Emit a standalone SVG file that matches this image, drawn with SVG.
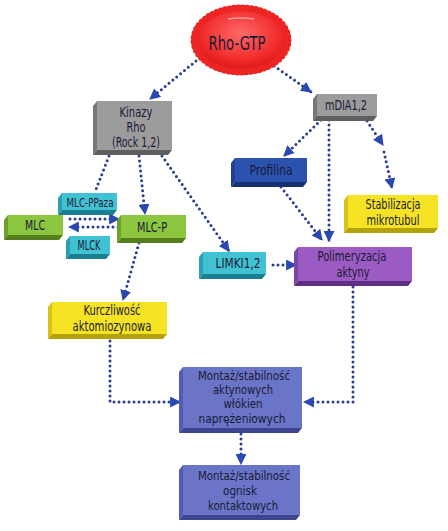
<svg xmlns="http://www.w3.org/2000/svg" width="448" height="531" viewBox="0 0 448 531">
<style>
.t{font-family:"DejaVu Sans Condensed","DejaVu Sans",sans-serif;font-stretch:condensed;font-size:14px;fill:#1a1a36;text-anchor:middle}
.m{font-size:13px}
.c{fill:none;stroke:#2b3c98;stroke-width:3;stroke-linecap:round;stroke-dasharray:0 5}
.gray .f{fill:#9c9c9c}.gray .s{fill:#777}.gray .b{fill:#5e5e5e}
.cyan .f{fill:#41c2d2}.cyan .s{fill:#2aa0b4}.cyan .b{fill:#1b7f92}
.green .f{fill:#8dc63f}.green .s{fill:#6e9f2a}.green .b{fill:#557e1c}
.yel .f{fill:#f6e424}.yel .s{fill:#d8c414}.yel .b{fill:#b3a20c}
.pur .f{fill:#9b5bc2}.pur .s{fill:#7c45a4}.pur .b{fill:#5d2f82}
.sla .f{fill:#6b75c8}.sla .s{fill:#535cae}.sla .b{fill:#3d4592}
.blu .f{fill:#2c52b0}.blu .s{fill:#22428f}.blu .b{fill:#182f70}
</style>
<defs>
<radialGradient id="rg" cx="50%" cy="40%" r="60%">
<stop offset="0" stop-color="#ff6a6a"/>
<stop offset="0.7" stop-color="#f02a2a"/>
<stop offset="1" stop-color="#d81414"/>
</radialGradient>
<marker id="a" viewBox="0 0 10 10" refX="9" refY="5" markerWidth="11" markerHeight="11" markerUnits="userSpaceOnUse" orient="auto">
<path d="M0,0 L10,5 L0,10 z" fill="#2a48b0"/>
</marker>
</defs>
<rect width="448" height="531" fill="#fff"/>

<g id="connectors">
<path class="c" d="M196,61 L150,99" marker-end="url(#a)"/>
<path class="c" d="M270,63 L311,92" marker-end="url(#a)"/>
<path class="c" d="M109,156 L95,192"/>
<path class="c" d="M139,156 L145,214" marker-end="url(#a)"/>
<path class="c" d="M162,156 L229,251" marker-end="url(#a)"/>
<path class="c" d="M70,219 L119,219" marker-end="url(#a)"/>
<path class="c" d="M118,227 L69,227" marker-end="url(#a)"/>
<path class="c" d="M139,243 L123,300" marker-end="url(#a)"/>
<path class="c" d="M321,120 L284,156" marker-end="url(#a)"/>
<path class="c" d="M329,120 L329,241" marker-end="url(#a)"/>
<path class="c" d="M367,121 L383,145" marker-end="url(#a)"/>
<path class="c" d="M384,152 L392,188" marker-end="url(#a)"/>
<path class="c" d="M281,187 L322,240" marker-end="url(#a)"/>
<path class="c" d="M273,265 L296,265" marker-end="url(#a)"/>
<path class="c" d="M353,287 L353,402 L304,402" marker-end="url(#a)"/>
<path class="c" d="M110,341 L110,402 L180,402" marker-end="url(#a)"/>
<path class="c" d="M241,434 L241,464" marker-end="url(#a)"/>
</g>

<g id="rho-gtp">
<ellipse cx="241" cy="40" rx="47" ry="32" fill="url(#rg)" stroke="#ec2424" stroke-width="7" stroke-linecap="round" stroke-dasharray="0 4.4"/>
<path d="M228,19 Q241,17 254,19" stroke="#ff9a9a" stroke-width="1.5" fill="none"/>
<text class="t" x="237" y="50" style="font-size:20px" textLength="57" lengthAdjust="spacingAndGlyphs">Rho-GTP</text>
</g>

<g id="kinazy" class="gray">
<polygon class="s" points="97,101 93,106 93,155 97,150"/>
<polygon class="b" points="97,150 93,155 168,155 172,150"/>
<rect class="f" x="97" y="101" width="75" height="49"/>
<text class="t" x="136" y="117" textLength="33" lengthAdjust="spacingAndGlyphs">Kinazy</text>
<text class="t" x="136" y="132" textLength="19" lengthAdjust="spacingAndGlyphs">Rho</text>
<text class="t" x="136" y="147" textLength="48" lengthAdjust="spacingAndGlyphs">(Rock 1,2)</text>
</g>

<g id="mdia" class="gray">
<polygon class="s" points="317,94 313,99 313,121 317,116"/>
<polygon class="b" points="317,116 313,121 373,121 377,116"/>
<rect class="f" x="317" y="94" width="60" height="22"/>
<text class="t" x="346" y="110" textLength="42" lengthAdjust="spacingAndGlyphs">mDIA1,2</text>
</g>

<g id="profilina" class="blu">
<polygon class="s" points="235,158 231,163 231,187 235,182"/>
<polygon class="b" points="235,182 231,187 303,187 307,182"/>
<rect class="f" x="235" y="158" width="72" height="24"/>
<text class="t" x="271" y="175" textLength="43" lengthAdjust="spacingAndGlyphs">Profilina</text>
</g>

<g id="stabilizacja" class="yel">
<polygon class="s" points="348,195 344,200 344,233 348,228"/>
<polygon class="b" points="348,228 344,233 434,233 438,228"/>
<rect class="f" x="348" y="195" width="90" height="33"/>
<text class="t" x="393" y="209" textLength="55" lengthAdjust="spacingAndGlyphs">Stabilizacja</text>
<text class="t" x="393" y="225" textLength="53" lengthAdjust="spacingAndGlyphs">mikrotubul</text>
</g>

<g id="mlc-ppaza" class="cyan">
<polygon class="s" points="62,193 58,198 58,215 62,210"/>
<polygon class="b" points="62,210 58,215 113,215 117,210"/>
<rect class="f" x="62" y="193" width="55" height="17"/>
<text class="t m" x="90" y="207" textLength="47" lengthAdjust="spacingAndGlyphs">MLC-PPaza</text>
</g>

<g id="mlc" class="green">
<polygon class="s" points="8,215 4,220 4,240 8,235"/>
<polygon class="b" points="8,235 4,240 59,240 63,235"/>
<rect class="f" x="8" y="215" width="55" height="20"/>
<text class="t" x="35" y="230" textLength="20" lengthAdjust="spacingAndGlyphs">MLC</text>
</g>

<g id="mlc-p" class="green">
<polygon class="s" points="121,215 117,220 117,243 121,238"/>
<polygon class="b" points="121,238 117,243 182,243 186,238"/>
<rect class="f" x="121" y="215" width="65" height="23"/>
<text class="t" x="152" y="232" textLength="30" lengthAdjust="spacingAndGlyphs">MLC-P</text>
</g>

<g id="mlck" class="cyan">
<polygon class="s" points="70,236 66,241 66,259 70,254"/>
<polygon class="b" points="70,254 66,259 106,259 110,254"/>
<rect class="f" x="70" y="236" width="40" height="18"/>
<text class="t" x="89" y="250" textLength="23" lengthAdjust="spacingAndGlyphs">MLCK</text>
</g>

<g id="limki" class="cyan">
<polygon class="s" points="203,252 199,257 199,279 203,274"/>
<polygon class="b" points="203,274 199,279 262,279 266,274"/>
<rect class="f" x="203" y="252" width="63" height="22"/>
<text class="t" x="238" y="268" textLength="45" lengthAdjust="spacingAndGlyphs">LIMKI1,2</text>
</g>

<g id="polimeryzacja" class="pur">
<polygon class="s" points="298,247 294,252 294,286 298,281"/>
<polygon class="b" points="298,281 294,286 408,286 412,281"/>
<rect class="f" x="298" y="247" width="114" height="34"/>
<text class="t" x="352" y="261" textLength="69" lengthAdjust="spacingAndGlyphs">Polimeryzacja</text>
<text class="t" x="353" y="277" textLength="33" lengthAdjust="spacingAndGlyphs">aktyny</text>
</g>

<g id="kurczliwosc" class="yel">
<polygon class="s" points="52,302 48,307 48,339 52,334"/>
<polygon class="b" points="52,334 48,339 163,339 167,334"/>
<rect class="f" x="52" y="302" width="115" height="32"/>
<text class="t" x="112" y="315" textLength="57" lengthAdjust="spacingAndGlyphs">Kurczliwość</text>
<text class="t" x="112" y="331" textLength="79" lengthAdjust="spacingAndGlyphs">aktomiozynowa</text>
</g>

<g id="montaz-wlokien" class="sla">
<polygon class="s" points="183,367 179,372 179,433 183,428"/>
<polygon class="b" points="183,428 179,433 298,433 302,428"/>
<rect class="f" x="183" y="367" width="119" height="61"/>
<text class="t m" x="244" y="380" textLength="92" lengthAdjust="spacingAndGlyphs">Montaż/stabilność</text>
<text class="t m" x="243" y="394" textLength="60" lengthAdjust="spacingAndGlyphs">aktynowych</text>
<text class="t m" x="243" y="408" textLength="39" lengthAdjust="spacingAndGlyphs">włókien</text>
<text class="t m" x="242" y="423" textLength="87" lengthAdjust="spacingAndGlyphs">naprężeniowych</text>
</g>

<g id="montaz-ognisk" class="sla">
<polygon class="s" points="183,465 179,470 179,520 183,515"/>
<polygon class="b" points="183,515 179,520 296,520 300,515"/>
<rect class="f" x="183" y="465" width="117" height="50"/>
<text class="t m" x="244" y="480" textLength="92" lengthAdjust="spacingAndGlyphs">Montaż/stabilność</text>
<text class="t m" x="240" y="495" textLength="34" lengthAdjust="spacingAndGlyphs">ognisk</text>
<text class="t m" x="243" y="510" textLength="70" lengthAdjust="spacingAndGlyphs">kontaktowych</text>
</g>
</svg>
